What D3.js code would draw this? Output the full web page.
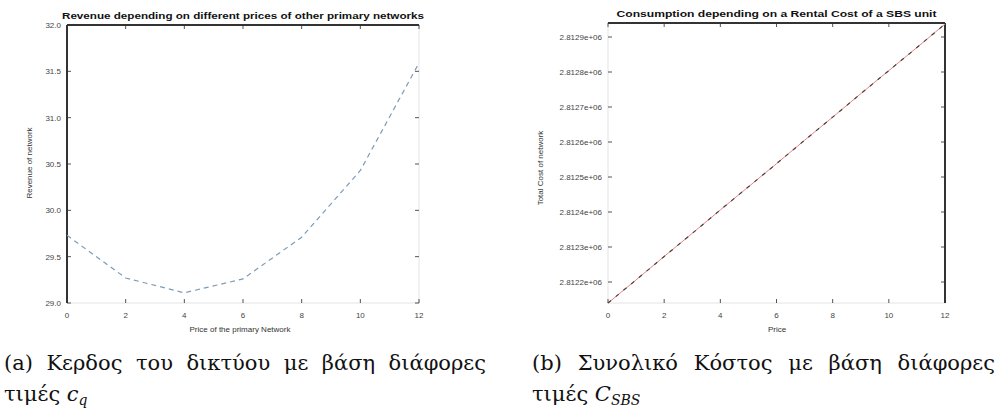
<!DOCTYPE html>
<html>
<head>
<meta charset="utf-8">
<script src="https://cdn.jsdelivr.net/npm/d3@7"></script>
<style>
  body { margin: 0; background: #fff; }
  svg { display: block; }
</style>
</head>
<body>
<svg id="fig" width="1001" height="414"></svg>
<script>
// ---- data: (a) revenue vs price of primary network ----
const priceA = [0, 2, 4, 6, 8, 10, 12];
const revenueA = [29.73, 29.27, 29.11, 29.26, 29.71, 30.43, 31.59];
const yTicksA = [29.0, 29.5, 30.0, 30.5, 31.0, 31.5, 32.0];
const xTicksA = [0, 2, 4, 6, 8, 10, 12];

// ---- data: (b) total cost vs SBS price ----
const priceB = [0, 1, 2, 3, 4, 5, 6, 7, 8, 9, 10, 11, 12];
const costB = [2812140, 2812206, 2812273, 2812339, 2812406, 2812472, 2812538,
               2812605, 2812671, 2812738, 2812804, 2812870, 2812937];
const yTicksB = [2812200, 2812300, 2812400, 2812500, 2812600, 2812700, 2812800, 2812900];
const xTicksB = [0, 2, 4, 6, 8, 10, 12];

const svg = d3.select("#fig");

function panel(opts) {
  const x = d3.scaleLinear().domain(opts.xDomain).range([opts.left, opts.right]);
  const y = d3.scaleLinear().domain(opts.yDomain).range([opts.bottom, opts.top]);
  const g = svg.append("g");

  // faint frame on all sides
  g.append("rect")
    .attr("x", opts.left).attr("y", opts.top)
    .attr("width", opts.right - opts.left).attr("height", opts.bottom - opts.top)
    .attr("fill", "none").attr("stroke", "#e4e4e4").attr("stroke-width", 1);

  // inward ticks (MATLAB style)
  const tk = 4;
  opts.xTicks.forEach(function (v) {
    g.append("line").attr("x1", x(v)).attr("x2", x(v)).attr("y1", opts.bottom).attr("y2", opts.bottom - tk)
      .attr("stroke", "#555");
    g.append("line").attr("x1", x(v)).attr("x2", x(v)).attr("y1", opts.top).attr("y2", opts.top + tk)
      .attr("stroke", "#555");
  });
  opts.yTicks.forEach(function (v) {
    g.append("line").attr("x1", opts.left).attr("x2", opts.left + tk).attr("y1", y(v)).attr("y2", y(v))
      .attr("stroke", "#555");
    g.append("line").attr("x1", opts.right).attr("x2", opts.right - tk).attr("y1", y(v)).attr("y2", y(v))
      .attr("stroke", "#555");
  });

  // dark edges
  opts.darkEdges.forEach(function (e) {
    let l = g.append("line").attr("stroke", "#333").attr("stroke-width", 2);
    if (e === "left") l.attr("x1", opts.left).attr("x2", opts.left).attr("y1", opts.top).attr("y2", opts.bottom);
    if (e === "right") l.attr("x1", opts.right).attr("x2", opts.right).attr("y1", opts.top).attr("y2", opts.bottom);
    if (e === "top") l.attr("x1", opts.left).attr("x2", opts.right).attr("y1", opts.top).attr("y2", opts.top);
  });

  // tick labels
  g.selectAll(".xt").data(opts.xTicks).enter().append("text")
    .attr("x", function (d) { return x(d); })
    .attr("y", opts.bottom + 15)
    .attr("text-anchor", "middle")
    .attr("font-family", "Liberation Sans, Arial, sans-serif")
    .attr("font-size", 8).attr("fill", "#444")
    .text(function (d) { return d; });

  g.selectAll(".yt").data(opts.yTicks).enter().append("text")
    .attr("x", opts.left - 6)
    .attr("y", function (d) { return y(d) + 3; })
    .attr("text-anchor", "end")
    .attr("font-family", "Liberation Sans, Arial, sans-serif")
    .attr("font-size", 8).attr("fill", "#444")
    .text(opts.yFormat);

  // title, axis labels
  g.append("text")
    .attr("x", (opts.left + opts.right) / 2).attr("y", opts.top - 6)
    .attr("text-anchor", "middle")
    .attr("font-family", "Liberation Sans, Arial, sans-serif")
    .attr("font-size", 9).attr("font-weight", "bold").attr("fill", "#111")
    .attr("textLength", opts.titleLen).attr("lengthAdjust", "spacingAndGlyphs")
    .text(opts.title);

  g.append("text")
    .attr("x", opts.xLabelX).attr("y", opts.bottom + 29)
    .attr("text-anchor", "middle")
    .attr("font-family", "Liberation Sans, Arial, sans-serif")
    .attr("font-size", 8).attr("fill", "#333")
    .text(opts.xLabel);

  g.append("text")
    .attr("transform", "translate(" + opts.yLabelX + "," + opts.yLabelY + ") rotate(-90)")
    .attr("text-anchor", "middle")
    .attr("font-family", "Liberation Sans, Arial, sans-serif")
    .attr("font-size", 8).attr("fill", "#333")
    .text(opts.yLabel);

  const line = d3.line().x(function (d) { return x(d[0]); }).y(function (d) { return y(d[1]); });
  const pts = opts.xs.map(function (v, i) { return [v, opts.ys[i]]; });

  opts.strokes.forEach(function (s) {
    g.append("path").datum(pts)
      .attr("d", line)
      .attr("fill", "none")
      .attr("stroke", s.color)
      .attr("stroke-width", s.width)
      .attr("stroke-dasharray", s.dash);
  });
}

panel({
  left: 67, right: 419, top: 25, bottom: 303,
  xDomain: [0, 12], yDomain: [29, 32],
  xTicks: xTicksA, yTicks: yTicksA,
  yFormat: d3.format(".1f"),
  xs: priceA, ys: revenueA,
  darkEdges: ["left", "top"],
  title: "Revenue depending on different prices of other primary networks",
  titleLen: 362,
  xLabel: "Price of the primary Network",
  xLabelX: 240,
  yLabel: "Revenue of network",
  yLabelX: 32, yLabelY: 163,
  strokes: [{ color: "#7d9cb8", width: 1.2, dash: "5,4" }]
});

panel({
  left: 608, right: 945, top: 23, bottom: 303,
  xDomain: [0, 12], yDomain: [2812140, 2812940],
  xTicks: xTicksB, yTicks: yTicksB,
  yFormat: function (d) { return (d / 1e6).toFixed(4) + "e+06"; },
  xs: priceB, ys: costB,
  darkEdges: ["top", "right"],
  title: "Consumption depending on a Rental Cost of a SBS unit",
  titleLen: 320,
  xLabel: "Price",
  xLabelX: 777,
  yLabel: "Total Cost of network",
  yLabelX: 543, yLabelY: 168,
  strokes: [{ color: "#f08080", width: 1, dash: null },
            { color: "#444", width: 1.2, dash: "4,6" }]
});

// ---- captions (justified with word spacing) ----
const capFont = "DejaVu Serif, Liberation Serif, serif";
function caption(x0, x1, yy, parts, justify) {
  const t = svg.append("text")
    .attr("x", x0).attr("y", yy)
    .attr("font-family", capFont)
    .attr("font-size", 21).attr("fill", "#111");
  parts.forEach(function (p) {
    const s = t.append("tspan").text(p.t);
    if (p.italic) s.attr("font-style", "italic");
    if (p.sub) s.attr("dy", 4).attr("font-size", 14).attr("font-style", "italic");
  });
  if (justify) {
    const natural = t.node().getComputedTextLength();
    const spaces = parts.map(function (p) { return p.t; }).join("").split(" ").length - 1;
    const extra = (x1 - x0 - natural) / spaces;
    t.attr("word-spacing", extra);
  }
}
caption(4, 486, 370, [{ t: "(a) Κερδος του δικτύου με βάση διάφορες" }], true);
caption(4, 86, 401, [{ t: "τιμές " }, { t: "c", italic: true }, { t: "q", sub: true }], false);
caption(532, 995, 370, [{ t: "(b) Συνολικό Κόστος με βάση διάφορες" }], true);
caption(532, 640, 401, [{ t: "τιμές " }, { t: "C", italic: true }, { t: "SBS", sub: true }], false);
</script>
</body>
</html>
